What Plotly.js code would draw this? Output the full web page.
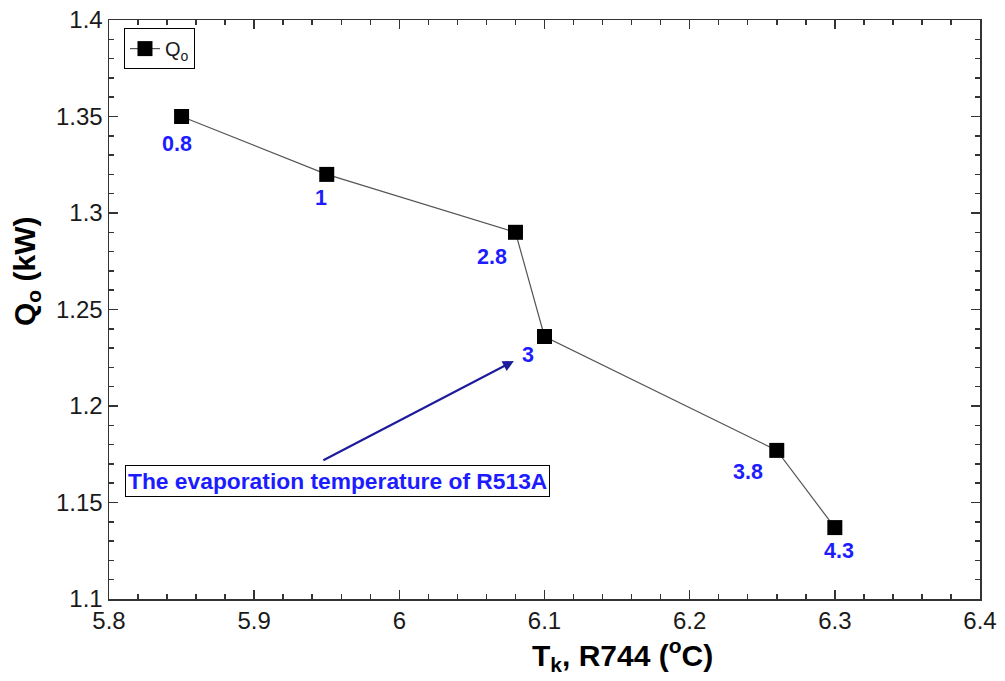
<!DOCTYPE html>
<html>
<head>
<meta charset="utf-8">
<script src="https://cdn.plot.ly/plotly-3.0.1.min.js"></script>
<style>html,body{margin:0;padding:0;background:#fff;}#chart{width:1005px;height:681px;}</style>
</head>
<body>
<div id="chart"></div>
<script>
// Data
const tk = [5.85, 5.95, 6.08, 6.10, 6.26, 6.30];          // T_k, R744 (°C)
const qo = [1.350, 1.320, 1.290, 1.236, 1.177, 1.137];    // Q_o (kW)
const evapLabels = ['0.8', '1', '2.8', '3', '3.8', '4.3']; // evaporation temperature of R513A
const seriesName = 'Q<sub>o</sub>';
const noteText = 'The evaporation temperature of R513A';

// label offsets (pixels) relative to each point
const labelShift = [[-5, -27], [-6, -24], [-23, -25], [-17, -18], [-29, -22], [4, -23]];

const blue = '#1c1cff';
const annotations = evapLabels.map((t, i) => ({
  x: tk[i], y: qo[i], xref: 'x', yref: 'y', text: '<b>' + t + '</b>', showarrow: false,
  xshift: labelShift[i][0], yshift: labelShift[i][1],
  font: {family: 'Liberation Sans, Arial, sans-serif', size: 21.5, color: blue}
}));

// arrow pointing at label "3"
annotations.push({
  x: 6.0789, y: 1.2233, xref: 'x', yref: 'y', text: '', showarrow: true,
  axref: 'pixel', ayref: 'pixel', ax: -192, ay: 100,
  arrowhead: 2, arrowsize: 1, arrowwidth: 2.2, arrowcolor: '#1d1d9c', standoff: 0, startstandoff: 0
});
// note box
annotations.push({
  x: 0.2618, y: 0.2038, xref: 'paper', yref: 'paper', xanchor: 'center', yanchor: 'middle',
  text: '<b>' + noteText + '</b>', showarrow: false,
  font: {family: 'Liberation Sans, Arial, sans-serif', size: 22.8, color: blue},
  bordercolor: '#000', borderwidth: 1, borderpad: 2, bgcolor: '#fff'
});
// axis titles
annotations.push({
  x: 0.589, y: -0.097, xref: 'paper', yref: 'paper', xanchor: 'center', yanchor: 'middle',
  text: '<b>T<sub>k</sub>, R744 (<sup>o</sup>C)</b>', showarrow: false,
  font: {family: 'Liberation Sans, Arial, sans-serif', size: 30, color: '#000'}
});
annotations.push({
  x: -0.0941, y: 0.5665, xref: 'paper', yref: 'paper', xanchor: 'center', yanchor: 'middle',
  textangle: -90,
  text: '<b>Q<sub>o</sub> (kW)</b>', showarrow: false,
  font: {family: 'Liberation Sans, Arial, sans-serif', size: 30, color: '#000'}
});

const trace = {
  x: tk, y: qo, name: seriesName, type: 'scatter', mode: 'lines+markers',
  line: {color: '#555555', width: 1.2},
  marker: {symbol: 'square', size: 15, color: '#000000'}
};

const axisCommon = {
  showgrid: false, zeroline: false, showline: true, linecolor: '#333', linewidth: 1.5,
  mirror: 'allticks', ticks: 'inside', ticklen: 9, tickwidth: 1.5, tickcolor: '#333',
  tickfont: {family: 'Liberation Sans, Arial, sans-serif', size: 24, color: '#1a1a1a'}
};

const layout = {
  width: 1005, height: 681,
  margin: {l: 109, r: 25, t: 20, b: 82},
  paper_bgcolor: '#fff', plot_bgcolor: '#fff',
  showlegend: true,
  legend: {
    x: 0.0172, y: 0.986, xanchor: 'left', yanchor: 'top',
    bordercolor: '#000', borderwidth: 1, bgcolor: '#fff',
    font: {family: 'Liberation Sans, Arial, sans-serif', size: 20, color: '#1a1a1a'}
  },
  xaxis: Object.assign({}, axisCommon, {
    range: [5.8, 6.4], dtick: 0.1, tick0: 5.8,
    minor: {ticks: 'inside', ticklen: 5, tickwidth: 1.5, tickcolor: '#333', dtick: 0.02, tick0: 5.8}
  }),
  yaxis: Object.assign({}, axisCommon, {
    range: [1.1, 1.4], dtick: 0.05, tick0: 1.1,
    minor: {ticks: 'inside', ticklen: 5, tickwidth: 1.5, tickcolor: '#333', dtick: 0.01, tick0: 1.1}
  }),
  annotations: annotations
};

Plotly.newPlot('chart', [trace], layout, {displayModeBar: false, staticPlot: true});
</script>
</body>
</html>
